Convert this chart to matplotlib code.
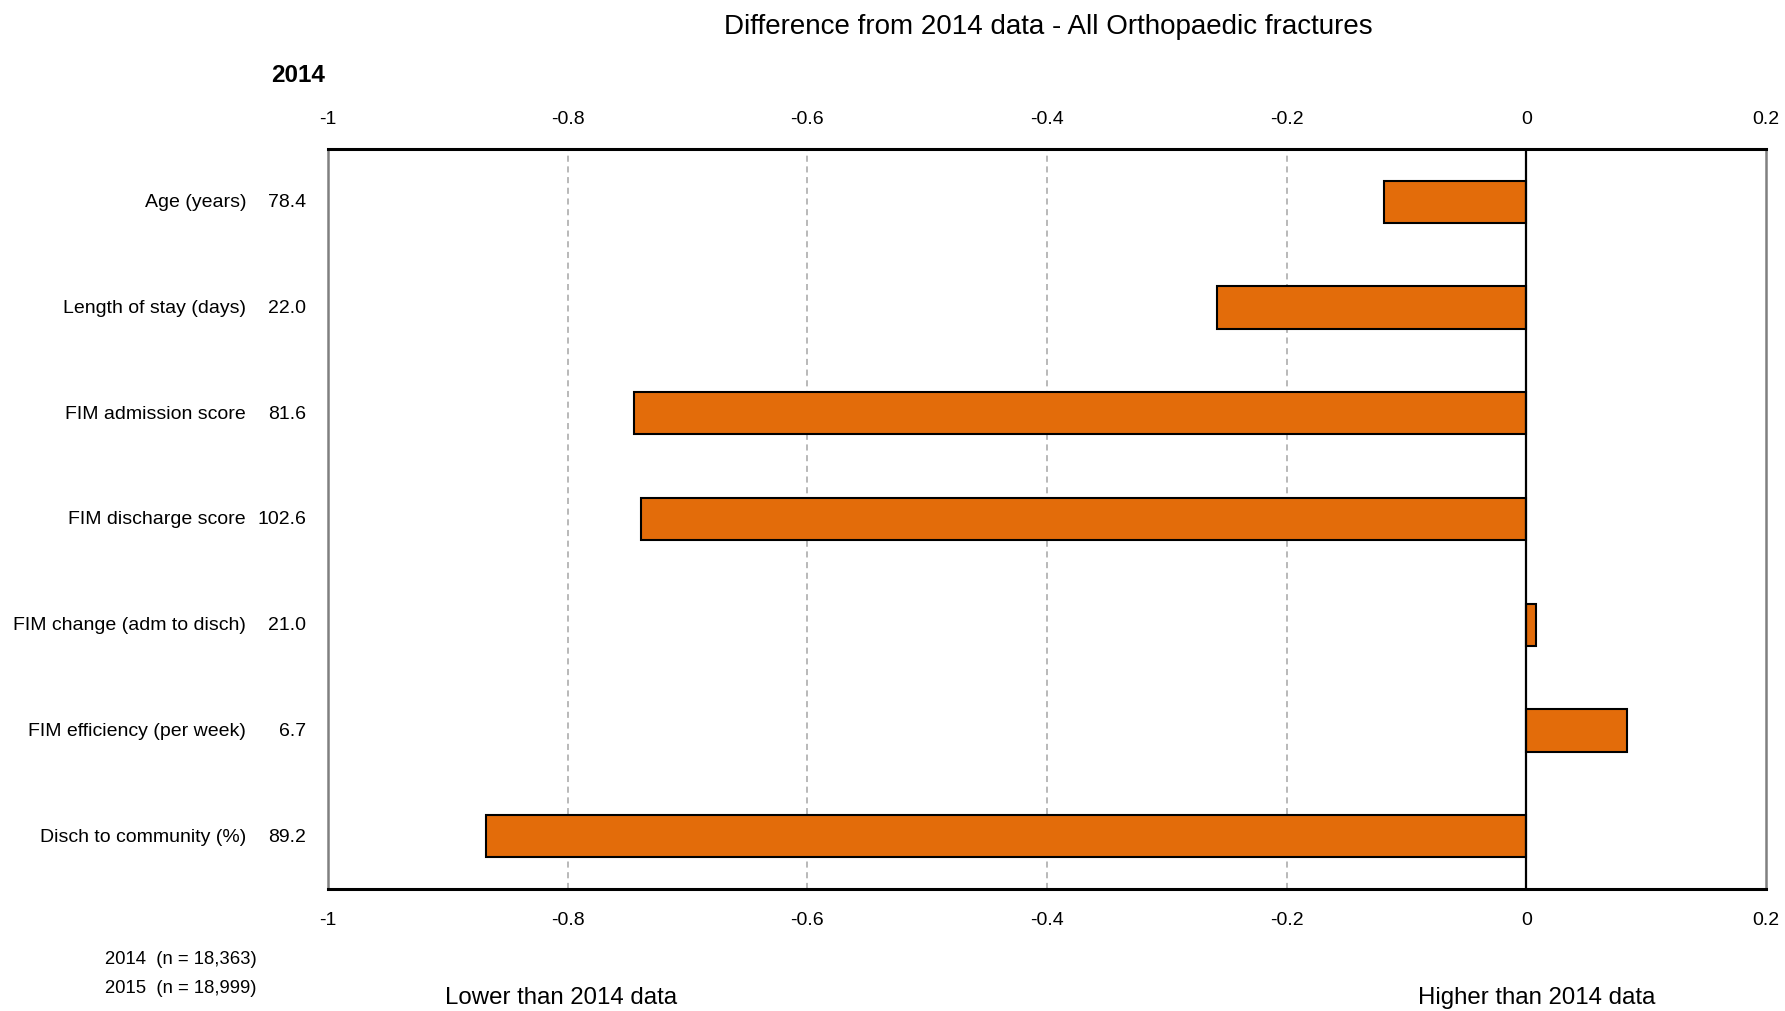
import matplotlib
matplotlib.use("Agg")
import matplotlib.pyplot as plt

plt.rcParams['font.family'] = ['Liberation Sans', 'DejaVu Sans']

# data
measures = ["Age (years)", "Length of stay (days)", "FIM admission score",
            "FIM discharge score", "FIM change (adm to disch)",
            "FIM efficiency (per week)", "Disch to community (%)"]
values_2014 = ["78.4", "22.0", "81.6", "102.6", "21.0", "6.7", "89.2"]
diff = [-0.119, -0.258, -0.745, -0.739, 0.008, 0.084, -0.868]
ticks = [-1, -0.8, -0.6, -0.4, -0.2, 0, 0.2]
tick_labels = ["-1", "-0.8", "-0.6", "-0.4", "-0.2", "0", "0.2"]
n_lines = ["2014  (n = 18,363)", "2015  (n = 18,999)"]

fig = plt.figure(figsize=(17.85, 10.12), dpi=100)
ax = fig.add_axes([328/1785, 1-890/1012, (1766-328)/1785, (890-150)/1012])

ypos = list(range(len(measures)))
ax.barh(ypos, diff, height=0.4, color="#E36C0A", edgecolor="black", linewidth=1.5, zorder=3)

ax.set_xlim(-1, 0.2)
ax.set_ylim(len(measures)-0.5, -0.5)
ax.set_xticks(ticks)
ax.set_xticklabels(tick_labels)
ax.tick_params(axis="x", length=0, labelsize=14, pad=16, labeltop=True, labelbottom=True)
ax.set_yticks([])

for g in [-0.8, -0.6, -0.4, -0.2]:
    ax.axvline(g, color="#a6a6a6", linestyle=(0, (4, 3)), linewidth=1.1, zorder=1)
ax.axvline(0, color="black", linewidth=1.6, zorder=4)

for s in ["top", "bottom"]:
    ax.spines[s].set_linewidth(2.2)
    ax.spines[s].set_color("black")
for s in ["left", "right"]:
    ax.spines[s].set_linewidth(1.8)
    ax.spines[s].set_color("#808080")

# category names and 2014 values on the left
for i, (m, v) in enumerate(zip(measures, values_2014)):
    ax.annotate(m, xy=(0, i), xycoords=("axes fraction", "data"), xytext=(-82, 0),
                textcoords="offset pixels", ha="right", va="center", fontsize=14)
    ax.annotate(v, xy=(0, i), xycoords=("axes fraction", "data"), xytext=(-22, 0),
                textcoords="offset pixels", ha="right", va="center", fontsize=14)

fig.text(1048/1785, 1-27/1012, "Difference from 2014 data - All Orthopaedic fractures",
         ha="center", va="center", fontsize=20)
fig.text(298/1785, 1-75/1012, "2014", ha="center", va="center", fontsize=17.5, fontweight="bold")
fig.text(105/1785, 1-960/1012, n_lines[0], ha="left", va="center", fontsize=13.3)
fig.text(105/1785, 1-989/1012, n_lines[1], ha="left", va="center", fontsize=13.3)
fig.text(561/1785, 1-998/1012, "Lower than 2014 data", ha="center", va="center", fontsize=17.3)
fig.text(1537/1785, 1-998/1012, "Higher than 2014 data", ha="center", va="center", fontsize=17.3)

fig.savefig("out.png", dpi=100)
